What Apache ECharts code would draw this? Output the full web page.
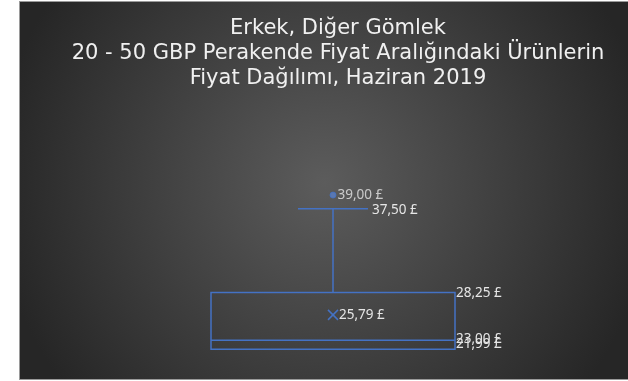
<!DOCTYPE html>
<html>
<head>
<meta charset="utf-8">
<script src="https://cdn.jsdelivr.net/npm/echarts@6/dist/echarts.min.js"></script>
<style>
  html, body { margin: 0; padding: 0; background: #ffffff; }
  #panel {
    position: absolute; left: 19px; top: 1px; width: 609px; height: 377px;
    border-top: 1px solid #9a9a9a; border-left: 1px solid #9a9a9a; border-bottom: 1px solid #9a9a9a;
    background: radial-gradient(circle 330px at 50% 48%, #5c5c5c 0%, #262626 100%);
  }
  #chart { position: absolute; left: 0; top: 0; width: 628px; height: 381px; }
</style>
</head>
<body>
<div id="panel"></div>
<div id="chart"></div>
<script>
// Price distribution, one category
const categories = ['Erkek, Diğer Gömlek'];
const minValues = [21.99];
const q1Values = [21.99];
const medianValues = [23.00];
const q3Values = [28.25];
const maxValues = [37.50];
const meanValues = [25.79];
const outlierValues = [39.00];

const titleLines = [
  'Erkek, Diğer Gömlek',
  '20 - 50 GBP Perakende Fiyat Aralığındaki Ürünlerin',
  'Fiyat Dağılımı, Haziran 2019'
];

const BLUE = '#4472C4';
const LABEL_COLOR = '#e6e6e6';
const LABEL_FONT = '13.5px "Noto Sans", sans-serif';

function fmt(v) {
  return v.toFixed(2).replace('.', ',') + ' £';
}

const boxData = categories.map((c, i) => [
  i, minValues[i], q1Values[i], medianValues[i], q3Values[i], maxValues[i], meanValues[i]
]);
const outlierData = [];
outlierValues.forEach(v => outlierData.push([0, v]));

function renderBox(params, api) {
  const idx = api.value(0);
  const band = api.size([1, 0])[0];
  const vMin = api.value(1), vQ1 = api.value(2), vMed = api.value(3),
        vQ3 = api.value(4), vMax = api.value(5), vMean = api.value(6);
  const cx = api.coord([idx, vMed])[0];
  const yMin = api.coord([idx, vMin])[1];
  const yQ1 = api.coord([idx, vQ1])[1];
  const yMed = api.coord([idx, vMed])[1];
  const yQ3 = api.coord([idx, vQ3])[1];
  const yMax = api.coord([idx, vMax])[1];
  const yMean = api.coord([idx, vMean])[1];
  const halfBox = band / 2;
  const halfCap = band * 0.1435;
  const lineStyle = { stroke: BLUE, lineWidth: 1.5, fill: null };
  const txt = (text, x, y) => ({
    type: 'text',
    style: { text, x, y, fill: LABEL_COLOR, font: LABEL_FONT, align: 'left', verticalAlign: 'middle' }
  });
  const m = 5;
  return {
    type: 'group',
    children: [
      { type: 'rect', shape: { x: cx - halfBox, y: yQ3, width: halfBox * 2, height: yQ1 - yQ3 }, style: lineStyle },
      { type: 'line', shape: { x1: cx - halfBox, y1: yMed, x2: cx + halfBox, y2: yMed }, style: lineStyle },
      { type: 'line', shape: { x1: cx, y1: yQ3, x2: cx, y2: yMax }, style: lineStyle },
      { type: 'line', shape: { x1: cx - halfCap, y1: yMax, x2: cx + halfCap, y2: yMax }, style: lineStyle },
      { type: 'line', shape: { x1: cx, y1: yQ1, x2: cx, y2: yMin }, style: lineStyle },
      { type: 'line', shape: { x1: cx - m, y1: yMean - m, x2: cx + m, y2: yMean + m }, style: lineStyle },
      { type: 'line', shape: { x1: cx - m, y1: yMean + m, x2: cx + m, y2: yMean - m }, style: lineStyle },
      txt(fmt(vMax), cx + halfCap + 4, yMax + 1),
      txt(fmt(vQ3), cx + halfBox + 1, yQ3 + 1),
      txt(fmt(vMean), cx + 6, yMean),
      txt(fmt(vMed), cx + halfBox + 1, yMed - 1.5),
      txt(fmt(vQ1), cx + halfBox + 1, yQ1 - 5.5)
    ]
  };
}

const chart = echarts.init(document.getElementById('chart'), null, { renderer: 'canvas' });
chart.setOption({
  backgroundColor: 'transparent',
  animation: false,
  title: {
    text: titleLines.join('\n'),
    left: 333,
    top: 11,
    textAlign: 'center',
    textStyle: {
      color: '#f0f0f0',
      fontFamily: '"DejaVu Sans", sans-serif',
      fontSize: 21,
      fontWeight: 'normal',
      lineHeight: 25
    }
  },
  grid: { left: 211, width: 244, top: 186, height: 181.4 },
  xAxis: { type: 'category', data: categories, show: false, boundaryGap: true },
  yAxis: { type: 'value', min: 20, max: 40, show: false, splitLine: { show: false } },
  series: [
    {
      type: 'custom',
      renderItem: renderBox,
      data: boxData,
      encode: { x: 0, y: [1, 2, 3, 4, 5, 6] },
      clip: false
    },
    {
      type: 'scatter',
      data: outlierData,
      symbol: 'circle',
      symbolSize: 6,
      itemStyle: { color: '#5a7fc8', borderColor: BLUE, borderWidth: 1 },
      label: {
        show: true,
        position: 'right',
        distance: 1,
        color: LABEL_COLOR,
        fontFamily: '"Noto Sans", sans-serif',
        fontSize: 13.5,
        formatter: p => fmt(p.value[1])
      }
    }
  ]
});
</script>
</body>
</html>
